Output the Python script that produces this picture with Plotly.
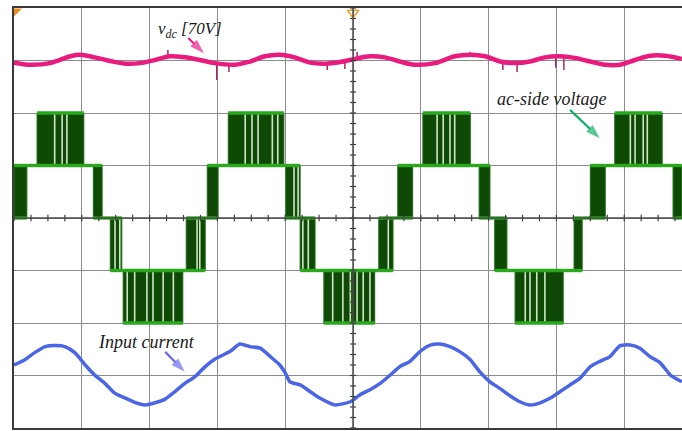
import plotly.graph_objects as go

# ---------------- data (time in screen divisions) ----------------
# DC-link voltage (volts, 10 V/div, channel ground marker at -3.94 div)
vdc_t = [0.00, 0.24, 0.53, 0.83, 0.97, 1.19, 1.42, 1.64, 1.86, 2.08, 2.30, 2.52, 2.74, 2.96,
         3.26, 3.48, 3.70, 3.92, 4.14, 4.37, 4.59, 4.81, 5.03, 5.25, 5.47, 5.69, 5.91, 6.21,
         6.50, 6.73, 6.95, 7.17, 7.39, 7.61, 7.83, 8.05, 8.27, 8.50, 8.72, 8.94, 9.16, 9.38,
         9.60, 9.85]
vdc_v = [69.0, 68.6, 68.9, 70.2, 70.5, 70.0, 69.3, 68.8, 68.9, 69.5, 70.2, 70.0, 69.5, 68.9,
         68.6, 69.2, 70.2, 70.5, 70.0, 69.0, 68.8, 69.1, 69.7, 70.2, 70.0, 69.2, 68.6, 68.9,
         70.2, 70.5, 70.2, 69.2, 68.9, 69.2, 70.0, 70.2, 69.9, 69.2, 68.6, 68.6, 69.5, 70.3,
         70.3, 69.7]
vdc_spike_t = [2.27, 2.99, 3.17, 4.62, 4.88, 5.06, 6.73, 7.21, 7.42, 7.99, 8.11]
vdc_spike_base = [70.1, 68.7, 68.6, 68.8, 69.1, 69.7, 70.5, 69.0, 68.9, 70.0, 70.1]
vdc_spike_tip = [71.4, 65.7, 67.2, 67.6, 67.8, 71.0, 71.0, 67.6, 67.2, 68.0, 67.6]
VDC_PER_DIV = 10.0
VDC_OFFSET = -3.94

# Input current (divisions, channel ground marker at -3.02 div)
cur_t = [0.00, 0.16, 0.31, 0.46, 0.60, 0.75, 0.90, 1.05, 1.19, 1.34, 1.49, 1.64, 1.78, 1.93,
         2.08, 2.23, 2.37, 2.52, 2.67, 2.82, 2.96, 3.19, 3.33, 3.48, 3.63, 3.78, 3.92, 4.00,
         4.07, 4.22, 4.37, 4.51, 4.73, 4.96, 5.10, 5.25, 5.40, 5.55, 5.69, 5.84, 5.99, 6.14,
         6.28, 6.43, 6.58, 6.73, 6.87, 7.02, 7.17, 7.32, 7.46, 7.61, 7.76, 7.91, 8.05, 8.20,
         8.35, 8.50, 8.64, 8.79, 8.94, 9.09, 9.23, 9.38, 9.53, 9.68, 9.85]
cur_i = [0.22, 0.32, 0.46, 0.57, 0.59, 0.57, 0.45, 0.22, 0.03, -0.13, -0.32, -0.41, -0.49, -0.54,
         -0.50, -0.43, -0.29, -0.13, 0.00, 0.19, 0.33, 0.48, 0.62, 0.57, 0.54, 0.38, 0.22, 0.07,
         -0.10, -0.16, -0.29, -0.41, -0.54, -0.48, -0.35, -0.25, -0.13, 0.03, 0.19, 0.29, 0.48, 0.60,
         0.62, 0.57, 0.47, 0.32, 0.09, -0.10, -0.23, -0.37, -0.48, -0.54, -0.50, -0.41, -0.29, -0.16,
         -0.03, 0.19, 0.29, 0.38, 0.59, 0.60, 0.54, 0.38, 0.26, 0.03, -0.10]
CUR_OFFSET = -3.02

# AC-side multilevel voltage: PWM bands (level units, 1 level = 1 div)
pwm_start = [0.00, 0.34, 1.17, 1.42, 1.61, 2.54, 2.85, 3.16, 4.01, 4.22, 4.57,
             5.38, 5.66, 6.03, 6.86, 7.09, 7.39, 8.26, 8.50, 8.86, 9.72]
pwm_end = [0.19, 1.03, 1.30, 1.59, 2.49, 2.82, 3.01, 3.98, 4.22, 4.44, 5.32,
           5.59, 5.88, 6.73, 7.02, 7.27, 8.10, 8.38, 8.72, 9.56, 9.85]
pwm_low = [0, 1, 0, -1, -2, -1, 0, 1, 0, -1, -2, -1, 0, 1, 0, -1, -2, -1, 0, 1, 0]
# light gaps between switching pulses inside the bands
gap_t = [0.60, 0.71, 0.78,
         1.49, 1.56,
         1.67, 1.78, 1.96, 2.05, 2.20, 2.35,
         2.70, 2.74,
         3.41, 3.51, 3.60, 3.81, 3.89,
         4.13, 4.19, 4.26, 4.34,
         4.70, 4.85, 4.96, 5.06, 5.15, 5.25,
         5.52,
         6.24, 6.33, 6.43, 6.50,
         7.54, 7.61, 7.71, 7.83,
         9.09, 9.16, 9.28, 9.34]
gap_low = [1, 1, 1,
           -1, -1,
           -2, -2, -2, -2, -2, -2,
           -1, -1,
           1, 1, 1, 1, 1,
           0, 0, -1, -1,
           -2, -2, -2, -2, -2, -2,
           -1,
           1, 1, 1, 1,
           -2, -2, -2, -2,
           1, 1, 1, 1]

# label arrows: (tail x, tail y, head x, head y) in divisions
arrow_vdc = [2.57, 3.43, 2.80, 3.14]
arrow_ac = [8.20, 2.06, 8.64, 1.52]
arrow_cur = [2.23, -2.55, 2.52, -2.93]

XMAX = 9.852
fig = go.Figure()

# ---- green PWM bands (dark fill) ----
fx, fy = [], []
for s, e, lo in zip(pwm_start, pwm_end, pwm_low):
    fx += [s, e, e, s, s, None]
    fy += [lo, lo, lo + 1, lo + 1, lo, None]
fig.add_trace(go.Scatter(x=fx, y=fy, mode="lines", fill="toself", fillcolor="#0e4a06",
                         line=dict(color="#1c6e10", width=1), hoverinfo="skip"))

# ---- light gaps inside bands ----
wx, wy = [], []
for t, lo in zip(gap_t, gap_low):
    wx += [t, t, None]
    wy += [lo, lo + 1, None]
fig.add_trace(go.Scatter(x=wx, y=wy, mode="lines", line=dict(color="#cfe5c6", width=1.6),
                         hoverinfo="skip"))

# ---- green level lines (band edges + flats between bands) ----
gx, gy = [], []
n = len(pwm_start)
for k in range(n):
    lo = pwm_low[k]
    gx += [pwm_start[k], pwm_end[k], None, pwm_start[k], pwm_end[k], None]
    gy += [lo, lo, None, lo + 1, lo + 1, None]
    if k + 1 < n:
        shared = max(lo, pwm_low[k + 1])
        gx += [pwm_end[k], pwm_start[k + 1], None]
        gy += [shared, shared, None]
fig.add_trace(go.Scatter(x=gx, y=gy, mode="lines", line=dict(color="#2aa81c", width=3.4),
                         hoverinfo="skip"))

# ---- vdc spikes and trace ----
sx, sy = [], []
for t, b, tip in zip(vdc_spike_t, vdc_spike_base, vdc_spike_tip):
    sx += [t, t, None]
    sy += [VDC_OFFSET + b / VDC_PER_DIV, VDC_OFFSET + tip / VDC_PER_DIV, None]
fig.add_trace(go.Scatter(x=sx, y=sy, mode="lines", line=dict(color="#a8285e", width=1.5),
                         hoverinfo="skip"))
fig.add_trace(go.Scatter(x=vdc_t, y=[VDC_OFFSET + v / VDC_PER_DIV for v in vdc_v],
                         mode="lines", line=dict(color="#ea1b7e", width=4.5, shape="spline"),
                         hoverinfo="skip"))

# ---- input current ----
fig.add_trace(go.Scatter(x=cur_t, y=[CUR_OFFSET + i for i in cur_i], mode="lines",
                         line=dict(color="#4a66e6", width=3.5, shape="spline", smoothing=0.6),
                         hoverinfo="skip"))

# ---- graticule ticks on the centre lines ----
tx, ty = [], []
for k in range(-20, 21):
    tx += [5 - 0.045, 5 + 0.045, None]
    ty += [k / 5, k / 5, None]
for k in range(0, 40):
    tx += [k / 4, k / 4, None]
    ty += [-0.06, 0.06, None]
fig.add_trace(go.Scatter(x=tx, y=ty, mode="lines", line=dict(color="#3c3c3c", width=1.2),
                         hoverinfo="skip"))

# ---- channel markers ----
fig.add_trace(go.Scatter(x=[-0.05], y=[0.0], mode="markers", cliponaxis=False,
                         marker=dict(symbol="triangle-right", size=7, color="#2aa81c")))
fig.add_trace(go.Scatter(x=[-0.05], y=[CUR_OFFSET], mode="markers", cliponaxis=False,
                         marker=dict(symbol="triangle-right", size=7, color="#4a66e6")))
fig.add_trace(go.Scatter(x=[-0.05], y=[VDC_OFFSET], mode="markers", cliponaxis=False,
                         marker=dict(symbol="triangle-right", size=6, color="#ea1b7e")))
fig.add_trace(go.Scatter(x=[0.04], y=[3.94], mode="markers", cliponaxis=False,
                         marker=dict(symbol="triangle-nw", size=9, color="#f08a1e")))
fig.add_trace(go.Scatter(x=[5.0], y=[3.91], mode="markers", cliponaxis=False,
                         marker=dict(symbol="triangle-down-open", size=10, color="#f0a030",
                                     line=dict(width=1.6))))

# ---- label arrows ----
for arr, col in ((arrow_vdc, "#e91e8c"), (arrow_ac, "#14b068"), (arrow_cur, "#6a6cf0")):
    fig.add_trace(go.Scatter(x=[arr[0], arr[2]], y=[arr[1], arr[3]], mode="lines+markers",
                             line=dict(color=col, width=2.2),
                             marker=dict(symbol=["circle", "arrow"], size=[0, 15], color=col,
                                         angleref="previous", line=dict(width=0)),
                             hoverinfo="skip"))

# centre lines
fig.add_shape(type="line", x0=5, x1=5, y0=-4, y1=4, line=dict(color="#4a4a4a", width=1.5))
fig.add_shape(type="line", x0=0, x1=XMAX, y0=0, y1=0, line=dict(color="#4a4a4a", width=1.5))

# ---- text labels ----
tfont = dict(family="Liberation Serif, Times New Roman, serif", size=18, color="#1a1a1a")
vfont = dict(family="Liberation Serif, Times New Roman, serif", size=17, color="#1a1a1a")
fig.add_annotation(x=2.09, y=3.58, xanchor="left", yanchor="middle", showarrow=False,
                   text="<i>v<sub>dc</sub> [70V]</i>", font=vfont)
fig.add_annotation(x=7.10, y=2.26, xanchor="left", yanchor="middle", showarrow=False,
                   text="<i>ac-side voltage</i>", font=tfont)
fig.add_annotation(x=1.21, y=-2.36, xanchor="left", yanchor="middle", showarrow=False,
                   text="<i>Input current</i>", font=tfont)

axis_common = dict(showticklabels=False, ticks="", zeroline=False, showgrid=True,
                   gridcolor="#8c8c8c", gridwidth=1.3, fixedrange=True)
fig.update_layout(
    width=682, height=431,
    margin=dict(l=14, r=0, t=8, b=3),
    paper_bgcolor="white", plot_bgcolor="white",
    showlegend=False,
    xaxis=dict(range=[0, XMAX], tick0=0, dtick=1, showline=True, mirror=True,
               linecolor="#3a3a3a", linewidth=1.5, **axis_common),
    yaxis=dict(range=[-4, 4], tick0=0, dtick=1, showline=True, mirror=False,
               linecolor="#3a3a3a", linewidth=1.5, **axis_common),
)

fig.write_html("out.html")
